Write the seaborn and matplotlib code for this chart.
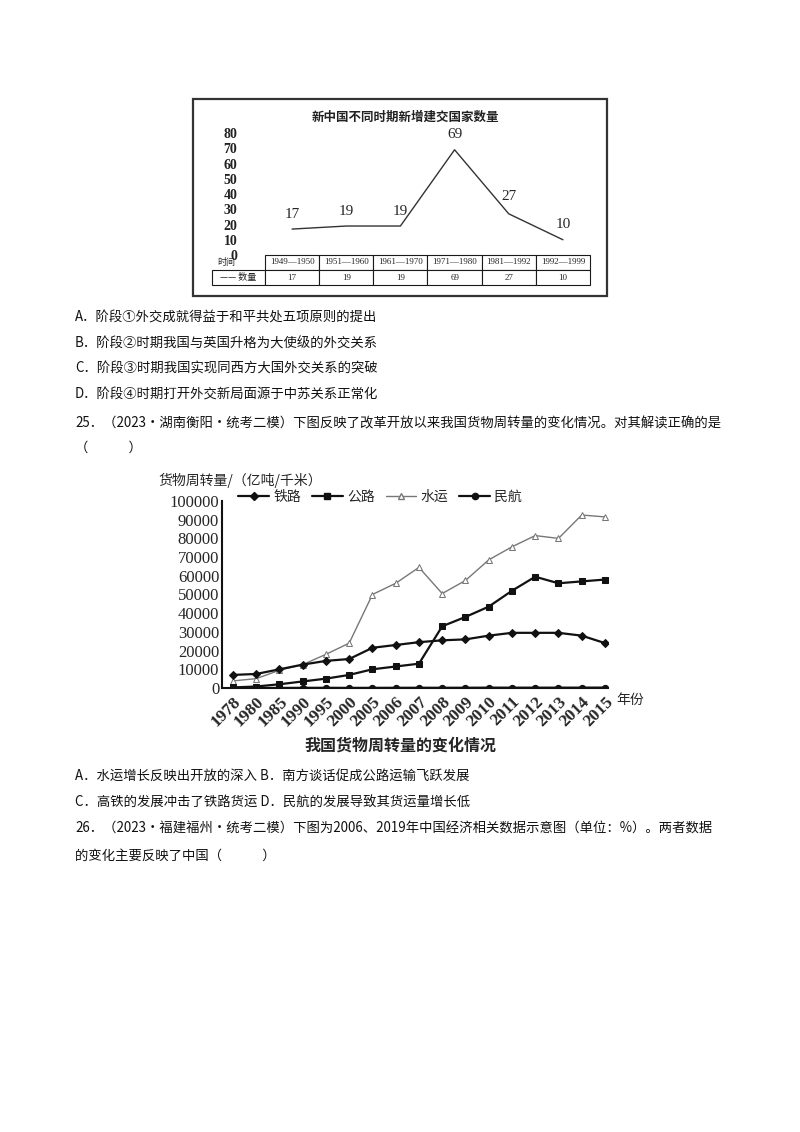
import matplotlib
matplotlib.use("Agg")
import matplotlib.pyplot as plt
import seaborn as sns
import pandas as pd
from matplotlib.patches import Rectangle
from matplotlib.lines import Line2D

sns.set_theme(style="white")
plt.rcParams['font.family'] = ['Noto Sans CJK SC', 'DejaVu Sans']
SERIF = ['Liberation Serif', 'DejaVu Serif']

# ---- data: chart 1 ----
periods = ["1949—1950", "1951—1960", "1961—1970", "1971—1980", "1981—1992", "1992—1999"]
counts = [17, 19, 19, 69, 27, 10]

# ---- data: chart 2 ----
years = ["1978", "1980", "1985", "1990", "1995", "2000", "2005", "2006", "2007",
         "2008", "2009", "2010", "2011", "2012", "2013", "2014", "2015"]
rail = [7000, 7500, 10000, 12500, 14500, 15500, 21500, 23000, 24500, 25500, 26000,
        28000, 29500, 29500, 29500, 28000, 24000]
road = [300, 800, 2000, 3500, 5000, 7000, 10000, 11500, 13000, 33000, 38000, 43500,
        52000, 59500, 56000, 57000, 58000]
water = [3800, 5000, 9500, 12500, 18000, 24000, 50000, 56000, 64500, 50500, 57500,
         68500, 75500, 81500, 80000, 92500, 91500]
air = [10, 20, 20, 80, 100, 50, 80, 90, 120, 120, 130, 180, 170, 170, 170, 190, 210]

W, H = 800, 1132
fig = plt.figure(figsize=(8, 11.32), dpi=100)
fig.patch.set_facecolor("white")

def fx(x): return x / W
def fy(y): return 1 - y / H

# ---- chart 1 frame ----
fig.patches.append(Rectangle((fx(193), fy(296)), fx(414), 197 / H, transform=fig.transFigure,
                             fill=False, lw=1.6, ec="#333333"))
fig.text(fx(405), fy(117), "新中国不同时期新增建交国家数量", fontsize=9, ha="center", va="center",
         color="#222222", fontweight="bold")

ax1 = fig.add_axes([fx(265), fy(255), 325 / W, 122 / H])
df1 = pd.DataFrame({"p": range(len(periods)), "v": counts})
sns.lineplot(data=df1, x="p", y="v", ax=ax1, color="#333333", lw=1.0)
ax1.set_xlim(-0.5, 5.5)
ax1.set_ylim(0, 80)
for s in ax1.spines.values():
    s.set_visible(False)
ax1.set_xticks([])
ax1.set_yticks(range(0, 81, 10))
ax1.set_yticklabels([str(v) for v in range(0, 81, 10)], fontfamily=SERIF, fontsize=10,
                    fontweight="bold", color="#222222")
ax1.tick_params(axis="y", length=0, pad=20)
ax1.set_xlabel(""); ax1.set_ylabel("")
offs = [(0, 6), (0, 6), (0, 6), (0, 6), (0, 8), (0, 6)]
for i, v in enumerate(counts):
    ax1.annotate(str(v), (i, v), textcoords="offset points", xytext=offs[i], ha="center",
                 va="bottom", fontfamily=SERIF, fontsize=11)
cells = [["时间"] + periods, ["—— 数量"] + [str(c) for c in counts]]
tb = ax1.table(cellText=cells, bbox=[-53 / 325, -30 / 122, 378 / 325, 30 / 122],
               colWidths=[53] + [54.2] * 6, cellLoc="center")
tb.auto_set_font_size(False)
for (r, c), cell in tb.get_celld().items():
    cell.set_text_props(fontsize=6.5, fontfamily=SERIF if c > 0 else None)
    cell.set_linewidth(0.8)
    if r == 0 and c == 0:
        cell.visible_edges = ""
        cell.get_text().set_ha("left")

# ---- body text ----
def T(x, y, s, **kw):
    fig.text(fx(x), fy(y), s, fontsize=9.6, va="center", ha="left", color="#111111", **kw)

T(75, 318, "A．阶段①外交成就得益于和平共处五项原则的提出")
T(75, 344, "B．阶段②时期我国与英国升格为大使级的外交关系")
T(75, 369, "C．阶段③时期我国实现同西方大国外交关系的突破")
T(75, 395, "D．阶段④时期打开外交新局面源于中苏关系正常化")
T(75, 423, "25．（2023·湖南衡阳·统考二模）下图反映了改革开放以来我国货物周转量的变化情况。对其解读正确的是")
T(75, 448, "（　　　）")
T(75, 776, "A．水运增长反映出开放的深入 B．南方谈话促成公路运输飞跃发展")
T(75, 803, "C．高铁的发展冲击了铁路货运 D．民航的发展导致其货运量增长低")
T(75, 829, "26．（2023·福建福州·统考二模）下图为2006、2019年中国经济相关数据示意图（单位：%）。两者数据")
T(75, 856, "的变化主要反映了中国（　　　）")

# ---- chart 2 ----
ax2 = fig.add_axes([fx(222), fy(688), 386 / W, 187 / H])
df2 = pd.DataFrame({"year": list(range(len(years))) * 4,
                    "value": rail + road + water + air,
                    "mode": ["铁路"] * 17 + ["公路"] * 17 + ["水运"] * 17 + ["民航"] * 17})
styles = {"铁路": dict(marker="D", color="#111111", mfc="#111111", ms=4.5, lw=1.6),
          "公路": dict(marker="s", color="#111111", mfc="#111111", ms=5, lw=1.6),
          "水运": dict(marker="^", color="#777777", mfc="white", ms=5, lw=1.0),
          "民航": dict(marker="o", color="#111111", mfc="#111111", ms=4.5, lw=1.6)}
for m in ["水运", "公路", "铁路", "民航"]:
    st = styles[m]
    sns.lineplot(data=df2[df2["mode"] == m], x="year", y="value", ax=ax2, color=st["color"],
                 lw=st["lw"], marker=st["marker"], markersize=st["ms"],
                 markerfacecolor=st["mfc"], markeredgecolor=st["color"], legend=False)
ax2.set_xlim(-0.47, 16.13)
ax2.set_ylim(0, 100000)
for s in ["top", "right"]:
    ax2.spines[s].set_visible(False)
for s in ["left", "bottom"]:
    ax2.spines[s].set_color("#111111"); ax2.spines[s].set_linewidth(1.5)
ax2.set_xticks(range(len(years)))
ax2.set_xticklabels(years, rotation=45, ha="right", rotation_mode="anchor",
                    fontfamily=SERIF, fontsize=12.5, fontweight="bold")
ax2.set_yticks(range(0, 100001, 10000))
ax2.set_yticklabels([str(v) for v in range(0, 100001, 10000)], fontfamily=SERIF, fontsize=12)
ax2.tick_params(axis="both", length=3, width=1, color="#111111", direction="in", pad=2)
ax2.tick_params(axis="x", pad=4)
ax2.set_xlabel(""); ax2.set_ylabel("")
ax2.text(16.5, -6500, "年份", fontsize=10, va="center", ha="left")
fig.text(fx(158), fy(480), "货物周转量/（亿吨/千米）", fontsize=10, va="center", ha="left")
handles = [Line2D([], [], color=styles[m]["color"], marker=styles[m]["marker"],
                  mfc=styles[m]["mfc"], mec=styles[m]["color"], ms=styles[m]["ms"],
                  lw=styles[m]["lw"]) for m in ["铁路", "公路", "水运", "民航"]]
fig.legend(handles, ["铁路", "公路", "水运", "民航"], ncol=4, frameon=False,
           loc="center left", bbox_to_anchor=(fx(226), fy(497)), fontsize=10,
           handlelength=2.2, handletextpad=0.3, columnspacing=0.8)
fig.text(0.5, fy(746), "我国货物周转量的变化情况", fontsize=11.5, fontweight="bold",
         ha="center", va="center")

fig.savefig("out.png", dpi=100, facecolor="white")
